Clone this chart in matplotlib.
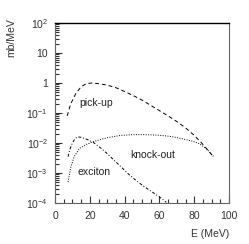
import matplotlib
matplotlib.use("Agg")
import matplotlib.pyplot as plt
from matplotlib.ticker import FixedLocator, LogLocator, NullFormatter, MultipleLocator

# pick-up (dashed)
e_pick = [7, 9, 12, 15, 18, 21, 25, 30, 35, 40, 45, 50, 55, 60, 65, 70, 75, 80, 85, 91]
y_pick = [0.08, 0.2, 0.45, 0.75, 0.95, 1.0, 0.95, 0.85, 0.7, 0.52, 0.38, 0.27, 0.18, 0.12, 0.08, 0.052, 0.032, 0.018, 0.009, 0.0035]
# knock-out (dotted)
e_knock = [7.5, 9, 11, 14, 18, 22, 26, 30, 38, 45, 50, 57, 63, 68, 74, 79, 83, 87, 91]
y_knock = [5e-4, 1.5e-3, 3.5e-3, 6.5e-3, 9e-3, 1.1e-2, 1.3e-2, 1.5e-2, 1.8e-2, 1.9e-2, 1.9e-2, 1.85e-2, 1.75e-2, 1.6e-2, 1.35e-2, 1.15e-2, 9.5e-3, 6.5e-3, 3.6e-3]
# exciton (dash-dot)
e_exc = [7.5, 8.5, 10, 11.5, 13, 15, 18, 22, 26, 29, 33, 38, 42, 46, 51, 56, 60, 64]
y_exc = [3.5e-3, 6e-3, 1.0e-2, 1.4e-2, 1.6e-2, 1.55e-2, 1.35e-2, 1.05e-2, 7e-3, 5e-3, 3e-3, 1.6e-3, 9.5e-4, 6e-4, 3.6e-4, 2.3e-4, 1.6e-4, 1.05e-4]

ytick_vals = [1e-4, 1e-3, 1e-2, 1e-1, 1, 10, 100]
ytick_labels = [r"$10^{-4}$", r"$10^{-3}$", r"$10^{-2}$", r"$10^{-1}$", "1", "10", r"$10^{2}$"]
xtick_vals = [0, 20, 40, 60, 80, 100]

plt.rcParams["font.family"] = ["Liberation Sans", "DejaVu Sans"]
plt.rcParams["mathtext.fontset"] = "custom"
plt.rcParams["mathtext.rm"] = "Liberation Sans"
plt.rcParams["mathtext.it"] = "Liberation Sans"

fig = plt.figure(figsize=(2.49, 2.44), dpi=100)
ax = fig.add_axes([55 / 249, 1 - 203 / 244, 174 / 249, 180 / 244])

ax.plot(e_pick, y_pick, color="black", lw=0.7, ls=(0, (4, 3)))
ax.plot(e_knock, y_knock, color="black", lw=0.7, ls=(0, (1, 1.5)))
ax.plot(e_exc, y_exc, color="black", lw=0.7, ls=(0, (3, 2, 1, 2)))

ax.set_yscale("log")
ax.set_xlim(0, 100)
ax.set_ylim(1e-4, 100)

ax.yaxis.set_major_locator(FixedLocator(ytick_vals))
ax.set_yticklabels(ytick_labels)
ax.yaxis.set_minor_locator(LogLocator(base=10, subs=range(2, 10)))
ax.yaxis.set_minor_formatter(NullFormatter())
ax.set_xticks(xtick_vals)
ax.xaxis.set_minor_locator(MultipleLocator(5))

ax.tick_params(axis="both", which="major", direction="in", length=5, width=0.8, labelsize=7.5, colors="#333333")
ax.tick_params(axis="both", which="minor", direction="in", length=3, width=0.8, color="#333333")
ax.tick_params(axis="x", pad=6)
ax.tick_params(axis="y", pad=5)

for s in ["left", "bottom", "right"]:
    ax.spines[s].set_color("#666666")
    ax.spines[s].set_linewidth(0.8)
ax.spines["top"].set_linewidth(1.0)

ax.set_ylabel("mb/MeV", fontsize=7.5, color="#333333")
ax.yaxis.set_label_coords(-0.22, 0.92)
ax.text(1.0, -0.17, "E (MeV)", transform=ax.transAxes, ha="right", va="center", fontsize=7.5, color="#333333")

ax.text(14, 0.17, "pick-up", fontsize=7.5, color="#222222")
ax.text(43, 3.2e-3, "knock-out", fontsize=7.5, color="#222222")
ax.text(13, 8.5e-4, "exciton", fontsize=7.5, color="#222222")

fig.savefig("out.png", dpi=100)
